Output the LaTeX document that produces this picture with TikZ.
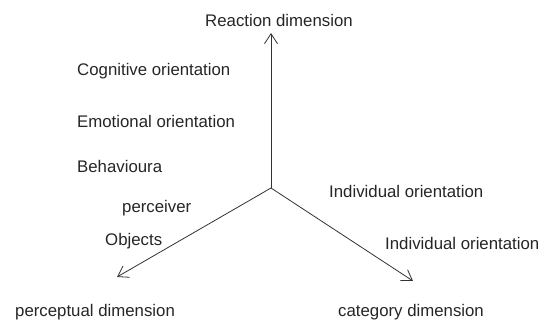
\documentclass[tikz,border=0pt]{standalone}
\usepackage{fontspec}
\setmainfont{Liberation Sans}
\usetikzlibrary{arrows.meta}
\begin{document}
\begin{tikzpicture}[x=1pt,y=-1pt,
  lbl/.style={anchor=base west,inner sep=0pt,font=\fontsize{16.8}{20}\selectfont,text=black!85},
  axis/.style={draw=black!80,line width=0.8pt,-{Straight Barb[length=10pt,width=13pt,line width=0.8pt]}}]
\useasboundingbox[fill=white] (0,0) rectangle (547,323);
\coordinate (o) at (271,188);
\coordinate (up) at (271,33);
\coordinate (lt) at (117,277);
\coordinate (rt) at (413,281);
\draw[axis] (o) -- (up);
\draw[axis] (o) -- (lt);
\draw[axis] (o) -- (rt);
\node[lbl] (reac) at (205,27) {Reaction dimension};
\node[lbl] (cog) at (77,76) {Cognitive orientation};
\node[lbl] (emo) at (77,128) {Emotional orientation};
\node[lbl] (beh) at (77,173) {Behavioura};
\node[lbl] (per) at (122,213) {perceiver};
\node[lbl] (obj) at (105,246) {Objects};
\node[lbl] (ind1) at (329,198) {Individual orientation};
\node[lbl] (ind2) at (385,250) {Individual orientation};
\node[lbl] (pdim) at (15,317) {perceptual dimension};
\node[lbl] (cdim) at (338,317) {category dimension};
\end{tikzpicture}
\end{document}
